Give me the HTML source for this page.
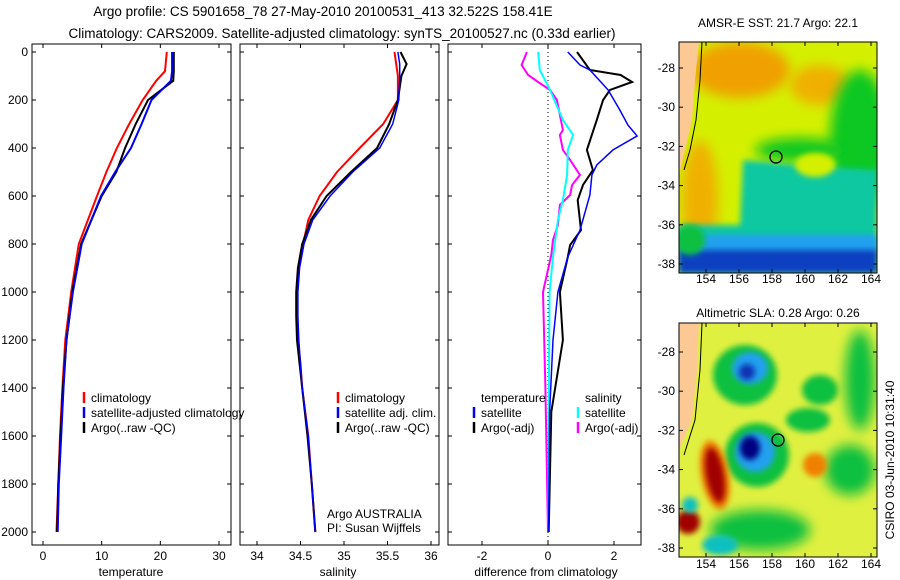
<!DOCTYPE html>
<html><head><meta charset="utf-8"><style>
body{margin:0;background:#fff}
svg{display:block;font-family:"Liberation Sans",sans-serif;font-size:12px}
</style></head><body>
<svg id="c" width="900" height="580" viewBox="0 0 900 580">
<defs>
<filter id="b6" x="-50%" y="-50%" width="200%" height="200%"><feGaussianBlur stdDeviation="6"/></filter>
<filter id="b3" x="-50%" y="-50%" width="200%" height="200%"><feGaussianBlur stdDeviation="3"/></filter>
<clipPath id="m1"><rect x="679" y="42" width="198" height="231"/></clipPath>
<clipPath id="m2"><rect x="679" y="323" width="198" height="234"/></clipPath>
</defs>
<text x="323" y="16" text-anchor="middle" font-size="13.5">Argo profile: CS 5901658_78 27-May-2010 20100531_413 32.522S 158.41E</text>
<text x="342" y="38" text-anchor="middle" font-size="13.5">Climatology: CARS2009. Satellite-adjusted climatology: synTS_20100527.nc (0.33d earlier)</text>

<!-- SST map -->
<g clip-path="url(#m1)">
<rect x="679" y="42" width="198" height="231" fill="#d4f000"/>
<ellipse cx="740" cy="70" rx="50" ry="28" fill="#f0a000" filter="url(#b6)"/>
<ellipse cx="820" cy="85" rx="30" ry="20" fill="#f0b000" filter="url(#b6)"/>
<ellipse cx="700" cy="200" rx="18" ry="60" fill="#f0b000" filter="url(#b6)"/>
<ellipse cx="860" cy="140" rx="30" ry="70" fill="#10c820" filter="url(#b6)"/>
<ellipse cx="800" cy="150" rx="45" ry="12" fill="#10c820" filter="url(#b6)"/>
<path d="M743 160 L800 165 L877 170 L877 273 L679 273 L679 225 L740 225 Z" fill="#10c8a0" filter="url(#b3)"/>
<ellipse cx="815" cy="165" rx="20" ry="12" fill="#d4f000" filter="url(#b3)"/>
<rect x="679" y="235" width="198" height="20" fill="#20a0f0" filter="url(#b3)"/>
<rect x="679" y="250" width="198" height="23" fill="#0840c0" filter="url(#b3)"/>
<ellipse cx="690" cy="240" rx="15" ry="15" fill="#10c040" filter="url(#b3)"/>
<path d="M679 42 L699 42 L695 80 L692 120 L685 150 L679 175 Z" fill="#fcc894"/>
<path d="M702 42 L700 80 L696 120 L690 150 L684 170" fill="none" stroke="#000" stroke-width="1"/>
</g>
<rect x="679" y="42" width="198" height="231" fill="none" stroke="#000"/>
<circle cx="776" cy="157" r="6" fill="none" stroke="#000" stroke-width="1.3"/>
<text x="778" y="27" text-anchor="middle">AMSR-E SST: 21.7 Argo: 22.1</text>

<!-- SLA map -->
<g clip-path="url(#m2)">
<rect x="679" y="323" width="198" height="234" fill="#e0f040"/>
<ellipse cx="745" cy="375" rx="32" ry="30" fill="#10c040" filter="url(#b3)"/>
<ellipse cx="750" cy="368" rx="18" ry="16" fill="#20a0f0" filter="url(#b3)"/>
<ellipse cx="747" cy="372" rx="8" ry="8" fill="#1030b0" filter="url(#b3)"/>
<ellipse cx="757" cy="455" rx="32" ry="32" fill="#10c040" filter="url(#b3)"/>
<ellipse cx="755" cy="452" rx="20" ry="20" fill="#20a0f0" filter="url(#b3)"/>
<ellipse cx="750" cy="448" rx="10" ry="12" fill="#000080" filter="url(#b3)"/>
<ellipse cx="715" cy="475" rx="14" ry="35" fill="#f08000" filter="url(#b3)" transform="rotate(-10 715 475)"/>
<ellipse cx="715" cy="475" rx="9" ry="28" fill="#a00000" filter="url(#b3)" transform="rotate(-10 715 475)"/>
<ellipse cx="688" cy="522" rx="12" ry="12" fill="#a00000" filter="url(#b3)"/>
<ellipse cx="820" cy="390" rx="18" ry="15" fill="#10c040" filter="url(#b3)"/>
<ellipse cx="808" cy="420" rx="22" ry="12" fill="#10c040" filter="url(#b3)"/>
<ellipse cx="860" cy="380" rx="15" ry="50" fill="#10c040" filter="url(#b6)"/>
<ellipse cx="850" cy="470" rx="25" ry="25" fill="#10c040" filter="url(#b6)"/>
<ellipse cx="760" cy="530" rx="50" ry="20" fill="#10c040" filter="url(#b6)"/>
<ellipse cx="720" cy="545" rx="18" ry="10" fill="#10c0c0" filter="url(#b3)"/>
<ellipse cx="815" cy="465" rx="12" ry="12" fill="#f08000" filter="url(#b3)"/>
<ellipse cx="690" cy="505" rx="8" ry="8" fill="#10c0c0" filter="url(#b3)"/>
<path d="M679 323 L699 323 L697 370 L692 420 L679 450 Z" fill="#fcc894"/>
<path d="M702 323 L700 370 L695 420 L684 455" fill="none" stroke="#000" stroke-width="1"/>
</g>
<rect x="679" y="323" width="198" height="234" fill="none" stroke="#000"/>
<circle cx="778" cy="440" r="6" fill="none" stroke="#000" stroke-width="1.3"/>
<text x="778" y="317" text-anchor="middle">Altimetric SLA: 0.28 Argo: 0.26</text>
<text transform="translate(894 460) rotate(-90)" text-anchor="middle">CSIRO 03-Jun-2010 10:31:40</text>

<g id="plots"></g>
</svg>
<script>
// ---- data ----
const depthTicks=[0,200,400,600,800,1000,1200,1400,1600,1800,2000];
const tempTicks=[0,10,20,30];
const salTicks=[34,34.5,35,35.5,36];
const diffTicks=[-2,0,2];
const tempDepth=[0,80,120,200,300,400,500,600,800,1000,1200,1400,1600,1800,2000];
const tempClim=[21.1,20.8,19.3,17,14.7,12.6,10.8,9.2,6.1,4.8,3.8,3.3,2.9,2.6,2.3];
const tempSat=[22,22,21.8,18.5,16.8,15,12.3,9.9,6.6,5.1,4,3.5,3.1,2.7,2.5];
const tempArgo=[22.3,22.3,22.2,17.9,15.8,14,12.5,10,6.5,5,4,3.4,3,2.6,2.4];
const salDepth=[0,50,100,200,300,400,500,600,700,800,900,1000,1100,1200,1300,1400,1600,1800,2000];
const salClim=[35.58,35.6,35.62,35.62,35.45,35.18,34.92,34.72,34.59,34.53,34.48,34.46,34.46,34.47,34.5,34.52,34.59,34.63,34.67];
const salSat=[35.62,35.64,35.64,35.63,35.56,35.41,35.1,34.84,34.64,34.54,34.49,34.47,34.47,34.48,34.5,34.52,34.59,34.63,34.67];
const salArgo=[35.65,35.72,35.66,35.62,35.52,35.38,35.08,34.8,34.62,34.52,34.47,34.45,34.45,34.46,34.49,34.52,34.58,34.63,34.67];
const dT_sat_d=[0,54,75,158,242,304,350,408,471,512,596,742,854,1000,1200,1500,2000];
const dT_sat=[0.6,0.97,1.27,1.82,2.18,2.42,2.7,1.97,1.48,1.33,1.27,0.97,0.6,0.3,0.15,0.05,0.02];
const dT_argo_d=[0,75,96,125,158,200,283,408,492,554,617,742,804,854,1000,1200,1500,2000];
const dT_argo=[0.88,1.27,2.2,2.55,1.88,1.67,1.48,1.18,1.36,1.06,0.9,1.0,0.67,0.6,0.36,0.45,0.1,0.02];
const dS_sat_d=[0,75,158,283,346,408,512,617,700,854,1000,1500,2000];
const dS_sat=[-0.3,-0.25,0.06,0.45,0.76,0.6,0.58,0.45,0.3,0.15,0.05,0.02,0.02];
const dS_argo_d=[0,54,96,125,158,200,262,325,346,408,450,512,554,596,637,721,783,846,1000,1400,2000];
const dS_argo=[-0.64,-0.8,-0.6,-0.3,0.06,0.27,0.36,0.45,0.36,0.45,0.67,0.97,0.73,0.67,0.36,0.3,0.15,0.1,-0.15,-0.08,0];
const lonTicks=[154,156,158,160,162,164];
const latTicks=[-28,-30,-32,-34,-36,-38];

// ---- layout ----
const NS='http://www.w3.org/2000/svg';
const G=document.getElementById('plots');
const yD=d=>52+d*0.24;
function mk(tag,at,parent){const e=document.createElementNS(NS,tag);for(const k in at)e.setAttribute(k,at[k]);(parent||G).appendChild(e);return e;}
const panels=[
 {name:'temperature',x0:32,x1:231,sx:v=>43+v*5.867,ticks:tempTicks,label:'temperature',lx:131},
 {name:'salinity',x0:240,x1:439,sx:v=>257+(v-34)*87,ticks:salTicks,label:'salinity',lx:338},
 {name:'difference',x0:448,x1:641,sx:v=>548+v*33,ticks:diffTicks,label:'difference from climatology',lx:546}
];
panels.forEach((p,i)=>{
 const fr=mk('rect',{x:p.x0,y:44,width:p.x1-p.x0,height:501,fill:'none',stroke:'#000'});
 
 
 p.ticks.forEach(t=>{
  const x=p.sx(t);
  mk('line',{x1:x,x2:x,y1:545,y2:541,stroke:'#000'});
  mk('line',{x1:x,x2:x,y1:44,y2:48,stroke:'#000'});
  const tx=mk('text',{x:x,y:560,'text-anchor':'middle'});tx.textContent=t;
  
  
 });
 depthTicks.forEach(d=>{
  mk('line',{x1:p.x0,x2:p.x0+4,y1:yD(d),y2:yD(d),stroke:'#000'});
  mk('line',{x1:p.x1,x2:p.x1-4,y1:yD(d),y2:yD(d),stroke:'#000'});
  if(i===0){const t=mk('text',{x:28,y:yD(d)+4,'text-anchor':'end'});t.textContent=d;
   
   }
 });
 const lb=mk('text',{x:p.lx,y:576,'text-anchor':'middle'});lb.textContent=p.label;
 
 
 p.line=(xs,ds,col,w,name)=>{
  const pts=xs.map((v,k)=>p.sx(v).toFixed(1)+','+yD(ds[k]).toFixed(1)).join(' ');
  const e=mk('polyline',{points:pts,fill:'none',stroke:col,'stroke-width':w});
  
  
 };
});
// zero line on difference
mk('line',{x1:548,x2:548,y1:44,y2:545,stroke:'#000','stroke-dasharray':'1,3'});
const [pT,pS,pD]=panels;
pT.line(tempClim,tempDepth,'#f00',2,'temp-climatology-line');
pT.line(tempSat,tempDepth,'#00f',2,'temp-satellite-line');
pT.line(tempArgo,tempDepth,'#000',2,'temp-argo-line');
pT.line(tempSat,tempDepth,'#00f',1.5,'temp-satellite-line-top');
pS.line(salClim,salDepth,'#f00',2,'sal-climatology-line');
pS.line(salArgo,salDepth,'#000',2,'sal-argo-line');
pS.line(salSat,salDepth,'#00f',1.5,'sal-satellite-line');
pD.line(dS_argo,dS_argo_d,'#f0f',2,'diff-sal-argo-line');
pD.line(dS_sat,dS_sat_d,'#0ff',2,'diff-sal-satellite-line');
pD.line(dT_argo,dT_argo_d,'#000',2,'diff-temp-argo-line');
pD.line(dT_sat,dT_sat_d,'#00f',1.5,'diff-temp-satellite-line');

// legends
function leg(x,y,col,txt,name){
 if(col){const m=mk('line',{x1:x,x2:x,y1:y-10,y2:y+1,stroke:col,'stroke-width':2.5});
  
  }
 const t=mk('text',{x:x+7,y:y});t.textContent=txt;
 
 
}
leg(84,402,'#f00','climatology','legend-temp-climatology');
leg(84,417,'#00f','satellite-adjusted climatology','legend-temp-satellite');
leg(84,432,'#000','Argo(..raw -QC)','legend-temp-argo');
leg(338,402,'#f00','climatology','legend-sal-climatology');
leg(338,417,'#00f','satellite adj. clim.','legend-sal-satellite');
leg(338,432,'#000','Argo(..raw -QC)','legend-sal-argo');
leg(474,402,null,'temperature','legend-diff-temperature');
leg(578,402,null,'salinity','legend-diff-salinity');
leg(474,417,'#00f','satellite','legend-diff-temp-satellite');
leg(474,432,'#000','Argo(-adj)','legend-diff-temp-argo');
leg(578,417,'#0ff','satellite','legend-diff-sal-satellite');
leg(578,432,'#f0f','Argo(-adj)','legend-diff-sal-argo');
leg(320,518,null,'Argo AUSTRALIA','data-source-label');
leg(320,532,null,'PI: Susan Wijffels','pi-label');

// map ticks
const lonX=v=>706+(v-154)*16.5;
[[42,273,68,19.6,283],[323,557,352,19.6,568]].forEach((m,k)=>{
 lonTicks.forEach(v=>{
  mk('line',{x1:lonX(v),x2:lonX(v),y1:m[1],y2:m[1]-4,stroke:'#000'});
  mk('line',{x1:lonX(v),x2:lonX(v),y1:m[0],y2:m[0]+4,stroke:'#000'});
  const t=mk('text',{x:lonX(v),y:m[4],'text-anchor':'middle'});t.textContent=v;
  
  
 });
 latTicks.forEach(v=>{
  const y=m[2]+(-28-v)*m[3];
  mk('line',{x1:877,x2:873,y1:y,y2:y,stroke:'#000'});
  mk('line',{x1:679,x2:683,y1:y,y2:y,stroke:'#000'});
  const t=mk('text',{x:675,y:y+4,'text-anchor':'end'});t.textContent=v;
  
  
 });
});
</script>
</body></html>
